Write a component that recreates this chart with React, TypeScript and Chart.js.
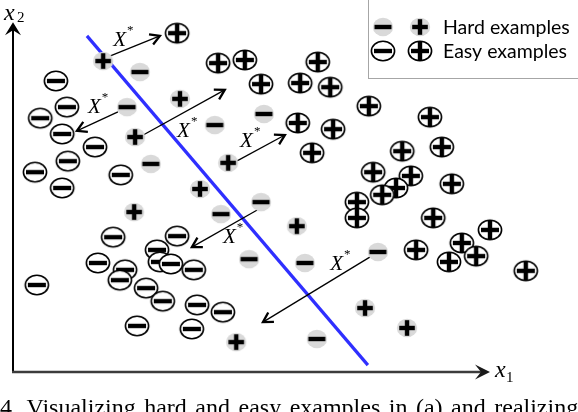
import React, { useEffect, useRef } from "react";
import { Chart, registerables } from "chart.js";

Chart.register(...registerables);

type P = [number, number];

// feature space x1 (0..100) / x2 (0..100)
const hardPlus: P[] = [
  [18.9, 90.4], [35.0, 79.4], [25.6, 68.3], [45.1, 60.8], [39.2, 53.2],
  [25.4, 46.5], [59.5, 42.4], [73.8, 18.6], [82.6, 12.8], [46.8, 8.7],
];
const hardMinus: P[] = [
  [26.6, 87.2], [23.9, 77.0], [52.6, 75.0], [42.3, 71.8], [28.9, 60.5],
  [52.0, 49.4], [43.6, 45.9], [49.5, 32.8], [61.2, 31.7], [76.5, 34.9], [63.7, 9.6],
];
const easyPlus: P[] = [
  [34.4, 98.5], [43.0, 89.8], [48.6, 90.7], [52.0, 83.7], [63.9, 90.1],
  [60.2, 84.0], [66.5, 82.8], [74.6, 77.3], [59.7, 72.4], [67.1, 70.6],
  [62.7, 63.7], [87.4, 74.1], [89.9, 65.4], [81.6, 64.2], [75.5, 58.1],
  [83.4, 57.0], [80.3, 53.5], [77.4, 51.5], [72.1, 49.4], [72.1, 44.8],
  [92.0, 54.7], [88.1, 44.8], [100.0, 41.3], [94.1, 37.5], [84.5, 35.5],
  [97.1, 33.7], [91.4, 32.0], [107.5, 29.4],
];
const easyMinus: P[] = [
  [9.0, 84.6], [11.3, 77.0], [5.7, 73.8], [10.3, 69.2], [17.2, 65.4],
  [11.5, 61.3], [4.6, 58.1], [10.3, 53.5], [22.6, 57.3], [21.0, 39.2],
  [34.4, 39.5], [30.2, 35.5], [17.8, 31.7], [30.8, 32.0], [33.1, 31.4],
  [23.5, 29.7], [22.4, 26.7], [37.9, 29.7], [5.0, 25.3], [27.9, 24.4],
  [31.4, 20.6], [38.6, 19.5], [44.0, 17.4], [26.0, 13.4], [37.5, 12.5],
];
const boundary: P[] = [[15.5, 97.7], [74.4, 2.0]];
const arrowFrom: P[] = [[19.9, 91.6], [22.0, 75.6], [27.3, 68.9], [46.5, 61.0], [51.2, 47.1], [74.8, 33.4]];
const arrowTo: P[] = [[30.8, 97.7], [13.4, 70.1], [44.4, 82.0], [57.0, 68.9], [37.5, 36.3], [52.4, 14.5]];
const arrowLabelAt: P[] = [[21.0, 94.8], [15.7, 75.3], [34.4, 68.3], [47.6, 65.4], [44.0, 37.5], [66.5, 29.7]];
const arrowLabel = "X";
const arrowLabelSup = "*";
const legendLabels = ["Hard examples", "Easy examples"];
const axisNames = ["x", "x"];
const axisSubs = ["1", "2"];
const captionLead = "Fig.";
const captionWords = ["4.", "Visualizing", "hard", "and", "easy", "examples", "in", "(a)", "and", "realizing"];

const X_MAX = 100;
const Y_MAX = 100;
const X_AXIS_END = 100;
const Y_AXIS_END = 101.7;

const toPts = (a: P[]) => a.map(([x, y]) => ({ x, y }));

function makeMarker(kind: "hard" | "easy", sign: "+" | "-"): HTMLCanvasElement {
  const c = document.createElement("canvas");
  const w = kind === "easy" ? 28 : 24;
  const h = kind === "easy" ? 24 : 22;
  c.width = w;
  c.height = h;
  const ctx = c.getContext("2d")!;
  const cx = w / 2;
  const cy = h / 2;
  ctx.beginPath();
  if (kind === "easy") {
    ctx.ellipse(cx, cy, 11.6, 9.8, 0, 0, Math.PI * 2);
    ctx.fillStyle = "#fff";
    ctx.fill();
    ctx.lineWidth = 1.6;
    ctx.strokeStyle = "#000";
    ctx.stroke();
  } else {
    ctx.ellipse(cx, cy, 10.2, 9.2, 0, 0, Math.PI * 2);
    ctx.fillStyle = "#d9d9d9";
    ctx.fill();
  }
  ctx.fillStyle = "#000";
  const t = 4.4;
  const half = kind === "easy" ? 9 : sign === "-" ? 8.5 : 7.8;
  ctx.fillRect(cx - half, cy - t / 2, half * 2, t);
  if (sign === "+") {
    const vh = kind === "easy" ? 9.6 : 7.8;
    ctx.fillRect(cx - t / 2, cy - vh, t, vh * 2);
  }
  return c;
}

function stealth(ctx: CanvasRenderingContext2D, tx: number, ty: number, a: number, L: number, W: number, N: number) {
  const dx = Math.cos(a), dy = Math.sin(a);
  const nx = -dy, ny = dx;
  ctx.beginPath();
  ctx.moveTo(tx, ty);
  ctx.lineTo(tx - L * dx + W * nx, ty - L * dy + W * ny);
  ctx.lineTo(tx - N * dx, ty - N * dy);
  ctx.lineTo(tx - L * dx - W * nx, ty - L * dy - W * ny);
  ctx.closePath();
  ctx.fill();
}

export default function App() {
  const ref = useRef<HTMLCanvasElement>(null);

  useEffect(() => {
    const canvas = ref.current!;
    const m = {
      hp: makeMarker("hard", "+"),
      hm: makeMarker("hard", "-"),
      ep: makeMarker("easy", "+"),
      em: makeMarker("easy", "-"),
    };

    const markerDs = (label: string, pts: P[], img: HTMLCanvasElement) => ({
      label,
      data: toPts(pts),
      pointStyle: img,
      pointRadius: 40,
      pointHoverRadius: 40,
      showLine: false,
      clip: false,
      order: 0,
    });

    const datasets: any[] = [
      markerDs("Easy −", easyMinus, m.em),
      markerDs("Easy +", easyPlus, m.ep),
      markerDs("Hard −", hardMinus, m.hm),
      markerDs("Hard +", hardPlus, m.hp),
      ...arrowFrom.map((f, i) => ({
        label: "arrow" + i,
        data: toPts([f, arrowTo[i]]),
        showLine: true,
        borderColor: "#000",
        borderWidth: 1.3,
        pointRadius: 0,
        clip: false,
        order: 1,
        isArrow: true,
      })),
      {
        label: "boundary",
        data: toPts(boundary),
        showLine: true,
        borderColor: "#2f2fff",
        borderWidth: 3.2,
        pointRadius: 0,
        clip: false,
        order: 2,
      },
    ];

    const decor = {
      id: "decor",
      beforeDatasetsDraw(chart: any) {
        const { ctx } = chart;
        const xs = chart.scales.x, ys = chart.scales.y;
        const x0 = xs.getPixelForValue(0), y0 = ys.getPixelForValue(0);
        const xEnd = xs.getPixelForValue(X_AXIS_END), yEnd = ys.getPixelForValue(Y_AXIS_END);
        ctx.save();
        ctx.strokeStyle = "#000";
        ctx.fillStyle = "#000";
        ctx.lineWidth = 2;
        ctx.beginPath();
        ctx.moveTo(x0, y0 + 1);
        ctx.lineTo(x0, yEnd + 6);
        ctx.stroke();
        stealth(ctx, x0, yEnd, -Math.PI / 2, 13, 8, 8);
        ctx.strokeStyle = "#3c3c3c";
        ctx.fillStyle = "#1a1a1a";
        ctx.lineWidth = 2.6;
        ctx.beginPath();
        ctx.moveTo(x0 - 1, y0);
        ctx.lineTo(xEnd - 6, y0);
        ctx.stroke();
        stealth(ctx, xEnd, y0, 0, 15, 7.5, 9);
        ctx.restore();
      },
      afterDatasetsDraw(chart: any) {
        const { ctx } = chart;
        const xs = chart.scales.x, ys = chart.scales.y;
        ctx.save();
        // arrowheads
        chart.data.datasets.forEach((ds: any, i: number) => {
          if (!ds.isArrow) return;
          const meta = chart.getDatasetMeta(i);
          const p0 = meta.data[0], p1 = meta.data[1];
          const a = Math.atan2(p1.y - p0.y, p1.x - p0.x);
          const L = 11, th = (30 * Math.PI) / 180;
          ctx.strokeStyle = "#000";
          ctx.lineWidth = 2.3;
          ctx.lineJoin = "miter";
          ctx.beginPath();
          ctx.moveTo(p1.x - L * Math.cos(a - th), p1.y - L * Math.sin(a - th));
          ctx.lineTo(p1.x, p1.y);
          ctx.lineTo(p1.x - L * Math.cos(a + th), p1.y - L * Math.sin(a + th));
          ctx.stroke();
        });
        // X* labels
        ctx.fillStyle = "#000";
        ctx.textBaseline = "alphabetic";
        ctx.textAlign = "left";
        arrowLabelAt.forEach(([vx, vy]) => {
          const px = xs.getPixelForValue(vx), py = ys.getPixelForValue(vy);
          ctx.font = 'italic 21px "Liberation Serif"';
          ctx.fillText(arrowLabel, px, py);
          const w = ctx.measureText(arrowLabel).width;
          ctx.font = '13px "Liberation Serif"';
          ctx.fillText(arrowLabelSup, px + w + 1, py - 12);
        });
        // axis labels
        const x0 = xs.getPixelForValue(0), y0 = ys.getPixelForValue(0);
        const xEnd = xs.getPixelForValue(X_AXIS_END), yEnd = ys.getPixelForValue(Y_AXIS_END);
        ctx.font = 'italic 24px "Liberation Serif"';
        ctx.fillText(axisNames[0], xEnd + 5, y0 + 5);
        ctx.fillText(axisNames[1], x0 - 9, yEnd - 2);
        ctx.font = '15px "Liberation Serif"';
        ctx.fillText(axisSubs[0], xEnd + 16, y0 + 10);
        ctx.fillText(axisSubs[1], x0 + 4, yEnd);
        // legend
        ctx.strokeStyle = "#a6a6a6";
        ctx.lineWidth = 1;
        ctx.strokeRect(368.5, -2, 220, 80.5);
        const rows = [
          [m.hm, m.hp, legendLabels[0], 27],
          [m.em, m.ep, legendLabels[1], 51],
        ] as const;
        rows.forEach(([a, b, text, cy]) => {
          ctx.drawImage(a, 383 - a.width / 2, cy - a.height / 2);
          ctx.drawImage(b, 420 - b.width / 2, cy - b.height / 2);
          ctx.fillStyle = "#000";
          ctx.font = '19.5px Lato';
          ctx.fillText(text, 443, cy + 7);
        });
        // caption (cut off by the bottom edge)
        ctx.font = '24px "Liberation Serif"';
        const gap = 8.5;
        ctx.fillText(captionLead, -ctx.measureText(captionLead).width - gap, 415);
        let cx = 0;
        captionWords.forEach((wd) => {
          ctx.fillText(wd, cx, 415);
          cx += ctx.measureText(wd).width + gap;
        });
        ctx.restore();
      },
    };

    const chart = new Chart(canvas, {
      type: "scatter",
      data: { datasets },
      options: {
        animation: false,
        responsive: false,
        events: [],
        layout: { autoPadding: false, padding: { left: 13, top: 28, right: 88, bottom: 40 } },
        scales: {
          x: { type: "linear", min: 0, max: X_MAX, display: false },
          y: { type: "linear", min: 0, max: Y_MAX, display: false },
        },
        plugins: { legend: { display: false }, tooltip: { enabled: false } },
      },
      plugins: [decor],
    } as any);
    return () => chart.destroy();
  }, []);

  return (
    <div style={{ position: "fixed", left: 0, top: 0, width: 578, height: 412, background: "#fff" }}>
      <canvas ref={ref} width={578} height={412} style={{ width: 578, height: 412 }} />
    </div>
  );
}
